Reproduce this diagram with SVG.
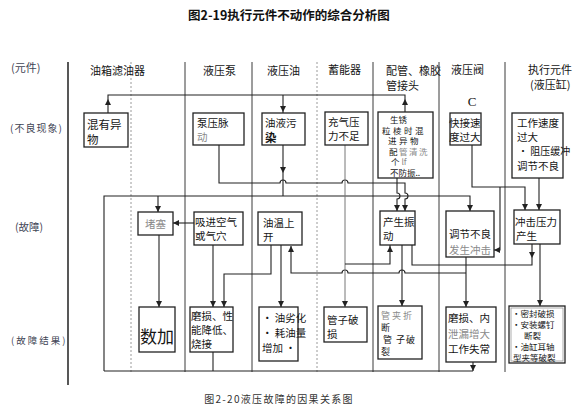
<svg xmlns="http://www.w3.org/2000/svg" xmlns:xlink="http://www.w3.org/1999/xlink" width="582" height="412" viewBox="0 0 582 412">
<defs>
<style>
text{font-family:"Noto Sans CJK SC","Noto Sans",sans-serif;font-size:10.5px;fill:#151515}
.h{font-size:11px}
.t{font-weight:bold;font-size:12.5px;fill:#111}
.lbl{font-size:10px;fill:#3f4555}
.g{fill:#8a8a8a}
.s{font-size:9px}
.m{font-size:8.5px}
.b{fill:#fff;stroke:#222;stroke-width:1.3}
.c{fill:none;stroke:#222;stroke-width:1.1}
.cg{fill:none;stroke:#777;stroke-width:1}
.d{stroke:#3a3a3a;stroke-width:1}
.dg{stroke:#9a9a9a;stroke-width:1;stroke-dasharray:2 2}
</style>
<path id="ah" d="M0,0 L-3,-6 L3,-6 Z" fill="#222"/>
</defs>
<rect width="582" height="412" fill="#fff"/>

<text class="t" x="289" y="20" text-anchor="middle">图2-19执行元件不动作的综合分析图</text>

<g id="row-labels">
<text class="lbl" x="11" y="72" style="font-size:11px">(元件)</text>
<text class="lbl" x="10" y="132" letter-spacing="1">(不良现象)</text>
<text class="lbl" x="15" y="231" style="font-size:10.5px">(故障)</text>
<text class="lbl" x="11" y="344" letter-spacing="2" style="font-size:9.5px">(故障结果)</text>
</g>

<g id="grid">
<line x1="68" y1="62" x2="68" y2="385" stroke="#111" stroke-width="1.4"/>
<line class="dg" x1="131" y1="62" x2="131" y2="372"/>
<line class="d" x1="185" y1="62" x2="185" y2="372"/>
<line class="d" x1="252" y1="62" x2="252" y2="372"/>
<line class="dg" x1="317" y1="62" x2="317" y2="372"/>
<line class="d" x1="373" y1="62" x2="373" y2="372"/>
<line class="d" x1="439" y1="62" x2="439" y2="372"/>
<line class="d" x1="505" y1="62" x2="505" y2="372"/>
</g>

<g id="headers">
<text class="h" x="90" y="75">油箱滤油器</text>
<text class="h" x="203" y="75">液压泵</text>
<text class="h" x="267" y="75">液压油</text>
<text class="h" x="328" y="74">蓄能器</text>
<text class="h" x="386" y="75">配管、橡胶</text>
<text class="h" x="386" y="90">管接头</text>
<text class="h" x="451" y="74">液压阀</text>
<text class="h" x="528" y="74">执行元件</text>
<text class="h" x="530" y="89">(液压缸)</text>
</g>

<g id="connectors">
<path class="c" d="M108,113 V95 H405 V112"/>
<path class="c" d="M283,95 V113"/>
<path class="c" d="M283,145 V196"/>
<path class="c" d="M219,145 V183 H280 a3,3 0 0 1 6,0 H342 a3,3 0 0 1 6,0 H405 V193 a3,3 0 0 1 0,6 V211"/>
<path class="c" d="M397,178 V193 a3,3 0 0 1 0,6 V211"/>
<path class="c" d="M104,371 V196 H470 V211"/>
<path class="c" d="M158,196 V212"/>
<path class="c" d="M194,223 H173"/>
<path class="c" d="M159,235 V307"/>
<path class="c" d="M213,245 V307"/>
<path class="c" d="M271,245 V274 H224 V307"/>
<path class="c" d="M281,245 V307"/>
<path class="c" d="M291,246 V273 H342 a3,3 0 0 1 6,0 H399 a3,3 0 0 1 6,0 H466"/>
<path class="cg" d="M345,145 V307"/>
<path class="c" d="M345,264 H390 V245"/>
<path class="c" d="M402,245 V306"/>
<path class="c" d="M412,245 V265 H532 V244"/>
<path class="c" d="M466,257 V307"/>
<path class="c" d="M472,145 V187 H525 V210"/>
<path class="c" d="M500,187 V250 H494"/>
<path class="c" d="M539,178 V210"/>
<path class="c" d="M540,244 V306"/>
<path class="c" d="M213,352 V371"/>
<path class="c" d="M473,362 V371"/>
<path class="c" d="M104,371 H473"/>
<use xlink:href="#ah" transform="translate(108,99) rotate(180)"/>
<use xlink:href="#ah" transform="translate(405,99) rotate(180)"/>
<use xlink:href="#ah" transform="translate(283,112)"/>
<use xlink:href="#ah" transform="translate(283,173)"/>
<use xlink:href="#ah" transform="translate(405,211)"/>
<use xlink:href="#ah" transform="translate(397,211)"/>
<use xlink:href="#ah" transform="translate(470,211)"/>
<use xlink:href="#ah" transform="translate(158,212)"/>
<use xlink:href="#ah" transform="translate(173,223) rotate(90)"/>
<use xlink:href="#ah" transform="translate(159,307)"/>
<use xlink:href="#ah" transform="translate(213,307)"/>
<use xlink:href="#ah" transform="translate(224,307)"/>
<use xlink:href="#ah" transform="translate(281,307)"/>
<use xlink:href="#ah" transform="translate(291,246) rotate(180)"/>
<use xlink:href="#ah" transform="translate(345,307)"/>
<use xlink:href="#ah" transform="translate(390,246) rotate(180)"/>
<use xlink:href="#ah" transform="translate(402,306)"/>
<use xlink:href="#ah" transform="translate(532,258)"/>
<use xlink:href="#ah" transform="translate(466,307)"/>
<use xlink:href="#ah" transform="translate(525,210)"/>
<use xlink:href="#ah" transform="translate(494,250) rotate(90)"/>
<use xlink:href="#ah" transform="translate(539,210)"/>
<use xlink:href="#ah" transform="translate(540,306)"/>
<use xlink:href="#ah" transform="translate(473,371)"/>
</g>

<g id="n-hunyou">
<rect class="b" x="84" y="113" width="44" height="34"/>
<text x="87" y="129" style="font-size:11.5px">混有异</text>
<text x="87" y="144" style="font-size:11.5px">物</text>
</g>
<g id="n-bengya">
<rect class="b" x="193" y="113" width="51" height="32"/>
<text x="197" y="127">泵压脉</text>
<text class="g" x="197" y="141">动</text>
</g>
<g id="n-wuran">
<rect class="b" x="262" y="113" width="43" height="32"/>
<text x="265" y="127">油液污</text>
<text x="265" y="142" style="font-size:11.5px;font-weight:bold">染</text>
</g>
<g id="n-chongqi">
<rect class="b" x="325" y="112" width="43" height="33"/>
<text x="328" y="126">充气压</text>
<text x="328" y="140">力不足</text>
</g>
<g id="n-shengxiu">
<rect class="b" x="378" y="112" width="55" height="66"/>
<text class="m" x="390" y="123">生锈</text>
<text class="m" x="382" y="133.5" letter-spacing="2.5">粒棱时混</text>
<text class="m" x="388" y="144" letter-spacing="2.5">进异物</text>
<text class="m" x="389" y="154.5" letter-spacing="1.5">配<tspan class="g">管清洗</tspan></text>
<text class="m" x="391" y="165">个 <tspan class="g">lf</tspan></text>
<text class="m" x="390" y="175.5">不防振..</text>
</g>
<g id="n-kuaijie">
<text x="472" y="106" text-anchor="middle" style="font-family:'Liberation Serif',serif;font-size:13px">C</text>
<rect class="b" x="450" y="113" width="31" height="32"/>
<text x="449" y="127">快接速</text>
<text x="449" y="141">度过大</text>
</g>
<g id="n-gongzuo">
<rect class="b" x="512" y="113" width="51" height="65"/>
<text x="517" y="127">工作速度</text>
<text x="517" y="141">过大</text>
<text style="font-size:10px" x="518" y="155">• 阻压缓冲</text>
<text x="517" y="170">调节不良</text>
</g>
<g id="n-dusai">
<rect class="b" x="138" y="212" width="35" height="23"/>
<text class="g" x="155.5" y="228" text-anchor="middle">堵塞</text>
</g>
<g id="n-xijin">
<rect class="b" x="194" y="212" width="49" height="33"/>
<text x="195" y="226">吸进空气</text>
<text x="195" y="240">或气穴</text>
</g>
<g id="n-youwen">
<rect class="b" x="258" y="212" width="44" height="33"/>
<text x="263" y="227">油温上</text>
<text x="263" y="241">开</text>
</g>
<g id="n-zhendong">
<rect class="b" x="380" y="211" width="35" height="34"/>
<text x="383" y="226">产生振</text>
<text x="383" y="240">动</text>
</g>
<g id="n-tiaojie">
<rect class="b" x="446" y="211" width="48" height="46"/>
<text x="449" y="238">调节不良</text>
<text class="g" x="449" y="254">发生冲击</text>
</g>
<g id="n-chongji">
<rect class="b" x="514" y="210" width="46" height="34"/>
<text x="515" y="226">冲击压力</text>
<text x="516" y="240">产生</text>
</g>
<g id="n-shujia">
<rect class="b" x="139" y="307" width="36" height="45"/>
<text x="140" y="343" style="font-size:17px">数加</text>
</g>
<g id="n-mosun1">
<rect class="b" x="190" y="307" width="43" height="45"/>
<text x="191" y="320">磨损、性</text>
<text x="191" y="334">能降低、</text>
<text x="191" y="348">烧接</text>
</g>
<g id="n-lihua">
<rect class="b" x="259" y="307" width="39" height="54"/>
<text x="262" y="322">• 油劣化</text>
<text x="262" y="337">• 耗油量</text>
<text x="262" y="352">增加 ·</text>
</g>
<g id="n-guanzi">
<rect class="b" x="324" y="307" width="43" height="35"/>
<text x="327" y="324">管子破</text>
<text x="327" y="338">损</text>
</g>
<g id="n-guanjia">
<rect class="b" x="378" y="306" width="44" height="53"/>
<text class="g s" x="381" y="319" letter-spacing="2">管夹折</text>
<text class="s" x="381" y="331">断</text>
<text class="s" x="383" y="343" letter-spacing="1">管 子破</text>
<text class="s" x="381" y="355">裂</text>
</g>
<g id="n-mifeng">
<rect x="511" y="308" width="52" height="53" fill="none" stroke="#999" stroke-width="0.8"/>
<rect x="509" y="306" width="56" height="57" fill="none" stroke="#222" stroke-width="1.3"/>
<text class="m" x="512" y="316.5">•密封破损</text>
<text class="m" x="512" y="327.5">•安装螺钉</text>
<text class="m" x="524" y="338.5">断裂</text>
<text class="m" x="512" y="349.5">•油缸耳轴</text>
<text class="m" x="513" y="360.5">型夹等破裂</text>
</g>
<g id="n-mosun2">
<rect class="b" x="446" y="307" width="50" height="55"/>
<text x="448" y="322">磨损、内</text>
<text class="g" x="448" y="338">泄漏增大</text>
<text x="448" y="353">工作失常</text>
</g>

<text x="279" y="403" text-anchor="middle" letter-spacing="1.3" style="font-size:10px;fill:#333">图2-20液压故障的因果关系图</text>
</svg>
